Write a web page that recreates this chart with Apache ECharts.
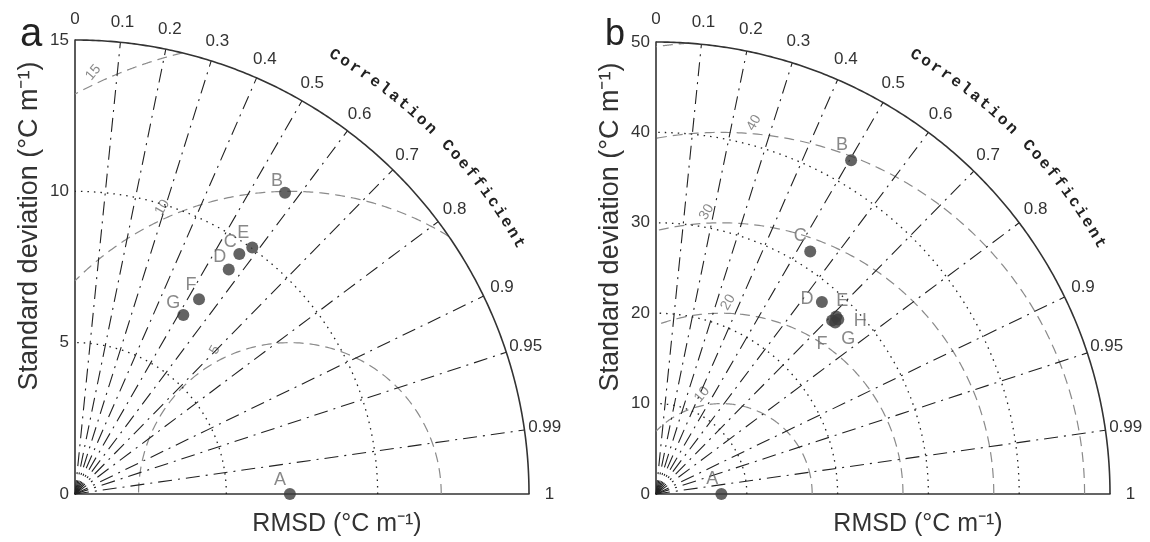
<!DOCTYPE html>
<html><head><meta charset="utf-8">
<script src="https://cdn.jsdelivr.net/npm/echarts@6/dist/echarts.min.js"></script>
<style>html,body{margin:0;padding:0;background:#fff}#c{width:1150px;height:542px}</style>
</head><body><div id="c"></div><script>
// ---------- DATA ----------
const namesA = ['A','B','C','D','E','F','G'];
const stdA   = [7.1, 12.13, 9.61, 8.99, 10.03, 7.63, 6.91];
const corrA  = [1, 0.572, 0.565, 0.565, 0.584, 0.537, 0.518];

const namesB = ['A','B','C','D','E','F','G','H'];
const stdB   = [7.2, 42.72, 31.75, 28.02, 27.91, 27.28, 27.37, 27.84];
const corrB  = [1, 0.503, 0.535, 0.652, 0.711, 0.711, 0.721, 0.721];

const corrTickLabels = ['0','0.1','0.2','0.3','0.4','0.5','0.6','0.7','0.8','0.9','0.95','0.99','1'];
const corrTicks = [0,0.1,0.2,0.3,0.4,0.5,0.6,0.7,0.8,0.9,0.95,0.99,1];
const corrLines = [0.1,0.2,0.3,0.4,0.5,0.6,0.7,0.8,0.9,0.95,0.99];

const stdMaxA = 15, stdStepA = 5;
const stdMaxB = 50, stdStepB = 10;
const stdArcsA = [5,10];
const stdArcsB = [10,20,30,40];
const rmsA = [5,10,15];
const rmsB = [10,20,30,40,50];
const rmsLabelsA = ['5','10','15'];
const rmsLabelsB = ['10','20','30','40'];
const axisTitle = 'Correlation Coefficient';
const xName = 'RMSD (°C m⁻¹)';
const yName = 'Standard deviation (°C m⁻¹)';

// ---------- LAYOUT / STYLE ----------
const labelOffA = {A:[-10,-14],B:[-8,-12],C:[-9,-12],D:[-9,-12],E:[-9,-15],F:[-8,-14],G:[-10,-12]};
const labelOffB = {A:[-9,-15],B:[-9,-15],C:[-10,-15],D:[-15,-3],E:[6,-16],F:[-10,23],G:[13,16],H:[22,1]};
const rmsLabLayoutA = [{ang:117.5,rot:60},{ang:114,rot:60},{ang:115,rot:50}];
const rmsLabLayoutB = [{ang:101,rot:50},{ang:88,rot:60},{ang:93,rot:60},{ang:85,rot:60}];

const FONT = 'Liberation Sans, Arial, sans-serif';

function makeRender(cfg){
  return function(params, api){
    const R = cfg.max, c = cfg.ref;
    const O = api.coord([0,0]);
    const Rpx = api.coord([R,0])[0] - O[0];
    const pol = (r,a)=>api.coord([r*Math.cos(a), r*Math.sin(a)]);
    const ch = [];
    // RMS contours
    cfg.rms.forEach(function(r){
      const cmin = (R*R - c*c - r*r)/(2*c*r);
      const t0 = Math.acos(Math.max(-1, Math.min(1, cmin)));
      const t1 = Math.acos(Math.max(-1, Math.min(1, -c/r)));
      if (t1 <= t0) return;
      const pts = [];
      for (let k=0;k<=200;k++){ const t=t0+(t1-t0)*k/200; pts.push(api.coord([c+r*Math.cos(t), r*Math.sin(t)])); }
      ch.push({type:'polyline', shape:{points:pts}, style:{stroke:'#8a8a8a', lineWidth:1.2, lineDash:[10,6], fill:null}});
    });
    // RMS labels
    cfg.rmsLabels.forEach(function(txt,i){
      const lay = cfg.rmsLay[i], r = cfg.rms[i];
      const a = lay.ang*Math.PI/180;
      const p = api.coord([c+r*Math.cos(a), r*Math.sin(a)]);
      const x = p[0] + 11*Math.cos(a), y = p[1] - 11*Math.sin(a);
      ch.push({type:'text', x:x, y:y, rotation: lay.rot*Math.PI/180,
        style:{text:txt, fontSize:14, fontFamily:FONT, fill:'#8a8a8a', align:'center', verticalAlign:'middle'}});
    });
    // std dotted arcs
    cfg.stdArcs.forEach(function(s){
      const pts=[];
      for (let k=0;k<=180;k++){ pts.push(pol(s, Math.PI/2*k/180)); }
      ch.push({type:'polyline', shape:{points:pts}, style:{stroke:'#222', lineWidth:1.3, lineDash:[1.5,5], fill:null}});
    });
    // correlation radial lines
    corrLines.forEach(function(cc){
      const a = Math.acos(cc);
      const p = pol(R, a);
      ch.push({type:'line', shape:{x1:O[0], y1:O[1], x2:p[0], y2:p[1]}, style:{stroke:'#222', lineWidth:1.1, lineDash:[14,6,2,6]}});
    });
    // outer arc
    const arc=[];
    for (let k=0;k<=240;k++){ arc.push(pol(R, Math.PI/2*k/240)); }
    ch.push({type:'polyline', shape:{points:arc}, style:{stroke:'#333', lineWidth:1.6, fill:null}});
    // correlation tick labels
    corrTicks.forEach(function(cc,i){
      const a = Math.acos(cc);
      const rp = Rpx*1.045;
      ch.push({type:'text', x:O[0]+rp*Math.cos(a), y:O[1]-rp*Math.sin(a),
        style:{text:corrTickLabels[i], fontSize:17, fontFamily:FONT, fill:'#333', align:'center', verticalAlign:'middle'}});
    });
    // curved title
    const n = axisTitle.length;
    const a0 = 59.4, a1 = 29.5, rt = Rpx*1.123;
    for (let k=0;k<n;k++){
      const ch1 = axisTitle[k];
      if (ch1 === ' ') continue;
      const ad = a0 + (a1-a0)*k/(n-1);
      const a = ad*Math.PI/180;
      ch.push({type:'text', x:O[0]+rt*Math.cos(a), y:O[1]-rt*Math.sin(a), rotation:(ad-90)*Math.PI/180,
        style:{text:ch1, fontSize:16, fontWeight:'bold', fontFamily:'Liberation Mono, DejaVu Sans Mono, monospace', fill:'#222', align:'center', verticalAlign:'middle'}});
    }
    return {type:'group', children:ch};
  };
}

function pts(names, std, corr, offs){
  return names.map(function(nm,i){
    const s = std[i], r = corr[i];
    return {name:nm, value:[s*r, s*Math.sqrt(Math.max(0,1-r*r))], label:{offset:offs[nm]}};
  });
}

const chart = echarts.init(document.getElementById('c'), null, {renderer:'canvas'});
const axisLine = {show:true, lineStyle:{color:'#333', width:1.6}};
function xAx(idx, max){
  return {gridIndex:idx, type:'value', min:0, max:max, axisLine:axisLine, axisTick:{show:false}, axisLabel:{show:false}, splitLine:{show:false},
    name:xName, nameLocation:'middle', nameGap:18,
    nameTextStyle:{fontSize:25, fontFamily:FONT, color:'#333', verticalAlign:'top', padding:[0,0,0,70]}};
}
function yAx(idx, max, step){
  return {gridIndex:idx, type:'value', min:0, max:max, interval:step, axisLine:axisLine, axisTick:{show:false},
    axisLabel:{fontSize:17, fontFamily:FONT, color:'#333', margin:6}, splitLine:{show:false},
    name:yName, nameLocation:'middle', nameGap:32,
    nameTextStyle:{fontSize:27, fontFamily:FONT, color:'#333', padding:[0,0,0,82]}};
}
const scatterBase = {type:'scatter', symbolSize:12, clip:false, itemStyle:{color:'#3c3c3c'}, z:10,
  label:{show:true, formatter:'{b}', position:'inside', fontSize:18, fontFamily:FONT, color:'#6a6a6a'}};

chart.setOption({
  backgroundColor:'#fff',
  animation:false,
  title:[
    {text:'a', left:15, top:10, textStyle:{fontSize:40, fontWeight:'normal', fontFamily:FONT, color:'#222'}},
    {text:'b', left:600, top:12, textStyle:{fontSize:36, fontWeight:'normal', fontFamily:FONT, color:'#222'}}
  ],
  grid:[
    {left:75, top:40, width:454, height:454},
    {left:656, top:42, width:454, height:454}
  ],
  xAxis:[xAx(0, stdMaxA), xAx(1, stdMaxB)],
  yAxis:[yAx(0, stdMaxA, stdStepA), yAx(1, stdMaxB, stdStepB)],
  series:[
    {type:'custom', xAxisIndex:0, yAxisIndex:0, clip:false, silent:true, data:[[0,0]],
      renderItem: makeRender({max:stdMaxA, ref:stdA[0], rms:rmsA, rmsLabels:rmsLabelsA, rmsLay:rmsLabLayoutA, stdArcs:stdArcsA})},
    {type:'custom', xAxisIndex:1, yAxisIndex:1, clip:false, silent:true, data:[[0,0]],
      renderItem: makeRender({max:stdMaxB, ref:stdB[0], rms:rmsB, rmsLabels:rmsLabelsB, rmsLay:rmsLabLayoutB, stdArcs:stdArcsB})},
    Object.assign({}, scatterBase, {xAxisIndex:0, yAxisIndex:0, data:pts(namesA, stdA, corrA, labelOffA)}),
    Object.assign({}, scatterBase, {xAxisIndex:1, yAxisIndex:1, data:pts(namesB, stdB, corrB, labelOffB)})
  ]
});
</script></body></html>
